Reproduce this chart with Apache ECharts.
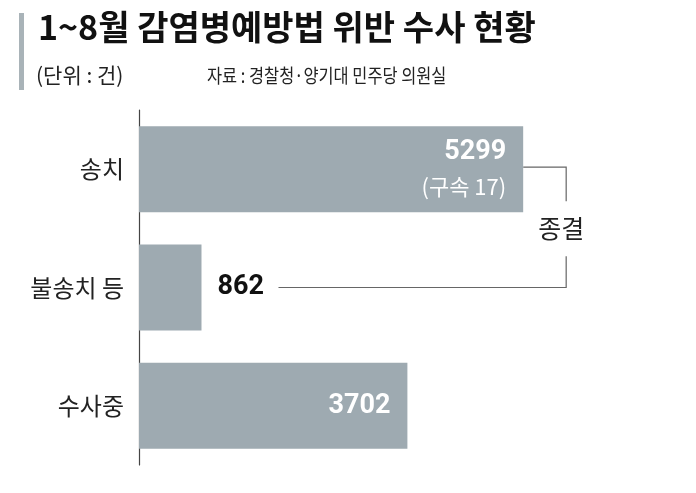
<!DOCTYPE html>
<html>
<head>
<meta charset="utf-8">
<script src="https://cdn.jsdelivr.net/npm/echarts@6/dist/echarts.min.js"></script>
<style>
  html, body { margin: 0; padding: 0; background: #fff; }
  #chart { width: 696px; height: 493px; }
</style>
</head>
<body>
<div id="chart"></div>
<script>
  // 1~8월 감염병예방법 위반 수사 현황 (단위: 건)
  const categories = ['송치', '불송치 등', '수사중']
  const values = [5299, 862, 3702]
  const notes = ['구속 17', '', '']
  const bracketText = '종결'

  const FONT = '"Noto Sans CJK KR", sans-serif'
  const NUM_FONT = 'Roboto, "Noto Sans CJK KR", sans-serif'
  const BAR_COLOR = '#9eaab1'

  const chart = echarts.init(document.getElementById('chart'))

  const option = {
    animation: false,
    backgroundColor: '#fff',
    title: [
      {
        text: '1~8월 감염병예방법 위반 수사 현황',
        left: 33, top: 5,
        textStyle: { fontFamily: FONT, fontSize: 34, fontWeight: 'bold', color: '#111' }
      },
      {
        text: '(단위 : 건)',
        left: 31, top: 60,
        textStyle: { fontFamily: FONT, fontSize: 21, fontWeight: 'normal', color: '#222' }
      }
    ],
    grid: { left: 139, top: 110, width: 435, bottom: 28 },
    xAxis: {
      type: 'value',
      min: 0,
      max: 6000,
      show: false
    },
    yAxis: {
      type: 'category',
      data: categories,
      inverse: true,
      axisLine: { show: true, lineStyle: { color: '#444', width: 1.2 } },
      axisTick: { show: false },
      axisLabel: {
        margin: 15,
        fontFamily: FONT,
        fontSize: 24,
        color: '#222'
      }
    },
    series: [
      {
        type: 'bar',
        barWidth: 86,
        itemStyle: { color: BAR_COLOR },
        data: values.map((v, i) => {
          if (i === 1) {
            return {
              value: v,
              label: {
                show: true,
                position: 'right',
                distance: 16,
                formatter: '{b|{c}}',
                rich: { b: { fontFamily: NUM_FONT, fontSize: 27, fontWeight: 'bold', color: '#111' } }
              }
            }
          }
          return {
            value: v,
            label: {
              show: true,
              position: 'insideRight',
              distance: 17,
              align: 'right',
              formatter: notes[i] ? '{b|{c}}\n{n|(' + notes[i] + ')}' : '{b|{c}}',
              rich: {
                b: { fontFamily: NUM_FONT, fontSize: 27, fontWeight: 'bold', color: '#fff', lineHeight: 34, align: 'right' },
                n: { fontFamily: FONT, fontSize: 22, color: '#fff', lineHeight: 34, align: 'right' }
              }
            }
          }
        })
      }
    ]
  }

  chart.setOption(option)

  // bracket joining 송치 and 불송치 등 as "종결"
  const p0 = chart.convertToPixel({ gridIndex: 0 }, [values[0], 0])
  const p1 = chart.convertToPixel({ gridIndex: 0 }, [values[1], 1])
  const bx = p0[0] + 43
  const y0 = p0[1] - 2
  const y1 = p1[1]
  const midY = (y0 + y1) / 2 + 1
  const lineStyle = { stroke: '#666', lineWidth: 1.2 }

  chart.setOption({
    graphic: [
      { type: 'rect', shape: { x: 19, y: 13, width: 5, height: 77 }, style: { fill: '#a9b3b8' } },
      {
        type: 'text', x: 207, y: 76, scaleX: 0.84,
        style: { text: '자료 : 경찰청·양기대 민주당 의원실', font: '19.5px ' + FONT, fill: '#222', verticalAlign: 'middle' }
      },
      { type: 'polyline', shape: { points: [[p0[0], y0], [bx, y0], [bx, midY - 27]] }, style: Object.assign({ fill: null }, lineStyle) },
      { type: 'polyline', shape: { points: [[bx, midY + 28], [bx, y1], [p1[0] + 77, y1]] }, style: Object.assign({ fill: null }, lineStyle) },
      {
        type: 'text',
        x: bx - 5, y: midY,
        style: { text: bracketText, font: '25px ' + FONT, fill: '#222', align: 'center', verticalAlign: 'middle' }
      }
    ]
  })
</script>
</body>
</html>
